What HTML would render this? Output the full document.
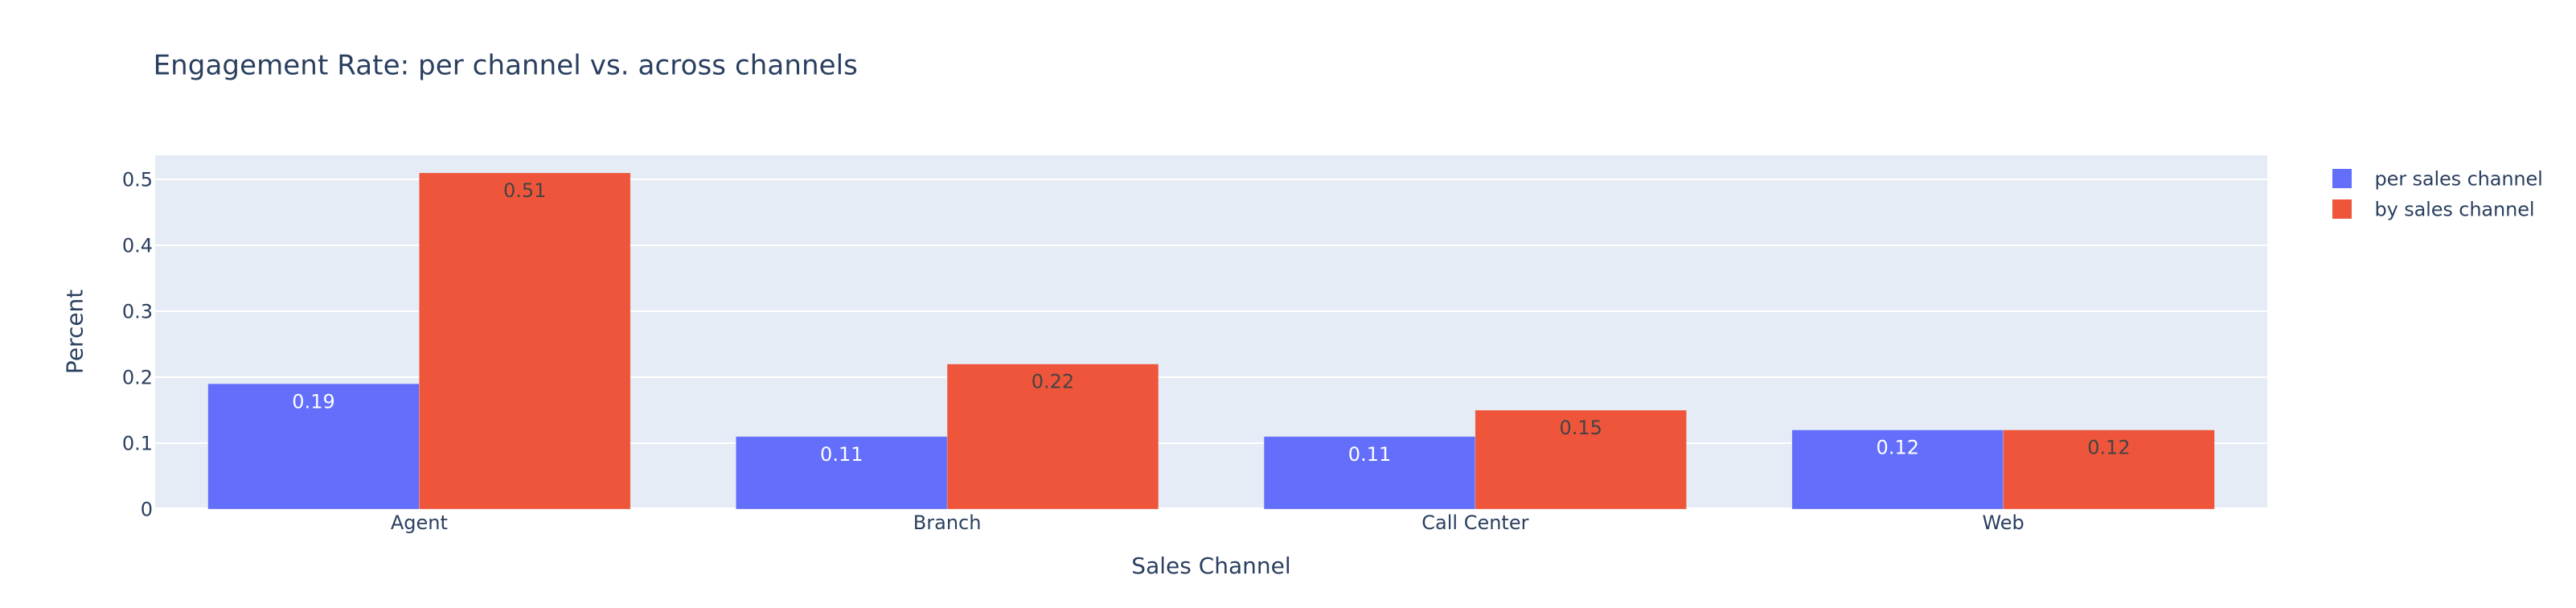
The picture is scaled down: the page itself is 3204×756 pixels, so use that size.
<!DOCTYPE html>
<html lang="en">
<head>
<meta charset="utf-8">
<title>Engagement Rate: per channel vs. across channels</title>
<style>
html,body{margin:0;padding:0;background:#fff;width:3204px;height:756px;overflow:hidden}
svg{display:block}
text{font-family:"DejaVu Sans","Liberation Sans",sans-serif;fill:#2a3f5f}
</style>
</head>
<body>
<svg id="chart" xmlns="http://www.w3.org/2000/svg" width="3204" height="756" viewBox="0 0 3204 756">
  <rect x="0" y="0" width="3204" height="756" fill="#ffffff"/>
  <text x="190.6" y="92.6" font-size="34" letter-spacing="0.09">Engagement Rate: per channel vs. across channels</text>
  <rect x="193" y="193" width="2627" height="440" fill="#e5ecf6"/>
  <g id="grid"></g>
  <g id="bars"></g>
  <g id="labels"></g>
  <g id="yticks"></g>
  <g id="xticks"></g>
  <text x="1506.5" y="713" font-size="28" text-anchor="middle">Sales Channel</text>
  <text transform="translate(102.6,412.4) rotate(-90)" font-size="28" text-anchor="middle">Percent</text>
  <g>
    <g>
      <rect x="2901" y="210" width="24" height="24" fill="#636efa"/>
      <text x="2953.5" y="230.6" font-size="24" letter-spacing="-0.12">per sales channel</text>
    </g>
    <g>
      <rect x="2901" y="248" width="24" height="24" fill="#ef553b"/>
      <text x="2953.5" y="268.6" font-size="24" letter-spacing="-0.12">by sales channel</text>
    </g>
  </g>
</svg>
<script>
const categories = ["Agent", "Branch", "Call Center", "Web"];
const perChannelValues = [0.19, 0.11, 0.11, 0.12];
const byChannelValues = [0.51, 0.22, 0.15, 0.12];
const yTickValues = [0, 0.1, 0.2, 0.3, 0.4, 0.5];
const yTickLabels = ["0", "0.1", "0.2", "0.3", "0.4", "0.5"];

const NS = "http://www.w3.org/2000/svg";
const plotLeft = 193, plotRight = 2820, plotTop = 193, plotBottom = 633;
const yMax = Math.max(...perChannelValues, ...byChannelValues) / 0.95;

function yScale(v) {
  return plotBottom - (v / yMax) * (plotBottom - plotTop);
}
function bandWidth() {
  return (plotRight - plotLeft) / categories.length;
}
function xCenter(i) {
  return plotLeft + bandWidth() * (i + 0.5);
}
function make(tag, parentId, attrs, text) {
  const el = document.createElementNS(NS, tag);
  for (const k in attrs) el.setAttribute(k, attrs[k]);
  if (text !== undefined) el.textContent = text;
  document.getElementById(parentId).appendChild(el);
  return el;
}

yTickValues.forEach(function (v, i) {
  const y = Math.round(yScale(v));
  const line = make("line", "grid", {
    x1: plotLeft, x2: plotRight, y1: y, y2: y,
    stroke: "#ffffff", "stroke-width": v === 0 ? 4 : 2
  });
  
  
  const tick = make("text", "yticks", {
    x: plotLeft - 3, y: y + 8.5, "font-size": 24, "text-anchor": "end"
  }, yTickLabels[i]);
  
  
});

function drawSeries(values, seriesIndex, color, labelColor) {
  const w = bandWidth() * 0.4;
  values.forEach(function (v, i) {
    const x = xCenter(i) - w + seriesIndex * w;
    const top = yScale(v);
    const bar = make("rect", "bars", {
      x: x, y: top, width: w, height: plotBottom - top,
      fill: color, stroke: "#e5ecf6", "stroke-width": 0.5, "stroke-opacity": 0.5
    });
    
    
    const label = make("text", "labels", {
      x: x + w / 2, y: top + 30, "font-size": 24, "text-anchor": "middle"
    }, v.toFixed(2));
    label.style.fill = labelColor;
    
    
  });
}
drawSeries(perChannelValues, 0, "#636efa", "#ffffff");
drawSeries(byChannelValues, 1, "#ef553b", "#444444");

categories.forEach(function (c, i) {
  const tick = make("text", "xticks", {
    x: xCenter(i), y: 658, "font-size": 24, "text-anchor": "middle"
  }, c);
  
  
});
</script>
</body>
</html>
